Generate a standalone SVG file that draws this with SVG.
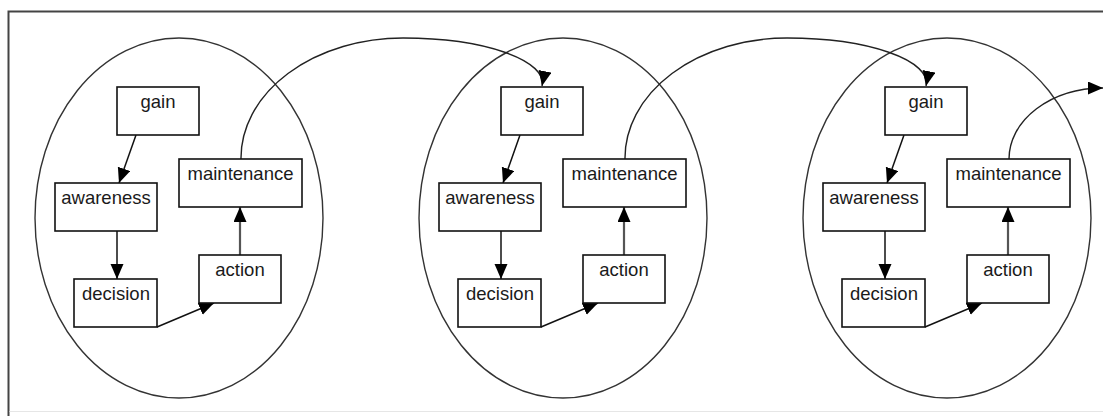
<svg xmlns="http://www.w3.org/2000/svg" width="1103" height="416" viewBox="0 0 1103 416">
<style>
.bg{fill:#ffffff}
.frame{stroke:#444;stroke-width:2;fill:none}
.frame2{stroke:#e6e6e6;stroke-width:1;fill:none}
.cluster{fill:none;stroke:#333;stroke-width:1.4}
.box{fill:#fff;stroke:#111;stroke-width:1.6}
.lbl{font-family:"Liberation Sans",Arial,sans-serif;font-size:18.5px;fill:#1a1a1a;text-anchor:middle}
.edge{fill:none;stroke:#111;stroke-width:1.5}
.edge2{fill:none;stroke:#555;stroke-width:2.2}
.curve{fill:none;stroke:#222;stroke-width:1.4}
</style>
<defs>
<marker id="ah" markerUnits="userSpaceOnUse" markerWidth="17" markerHeight="15" refX="15" refY="6.5" orient="auto">
<path d="M0,0 L15,6.5 L0,13 z" fill="#000"/>
</marker>
</defs>
<rect class="bg" x="0" y="0" width="1103" height="416"/>
<g id="frame">
<path class="frame" d="M8.5,416 V11.5 H1103"/>
<path class="frame2" d="M9.5,411.5 H1103"/>
</g>
<g id="clusters">
<ellipse id="cluster1" class="cluster" cx="179" cy="218" rx="144" ry="180"/>
<ellipse id="cluster2" class="cluster" cx="563" cy="218" rx="144" ry="180"/>
<ellipse id="cluster3" class="cluster" cx="947" cy="218" rx="144" ry="180"/>
</g>
<g id="connectors">
<path class="edge" d="M136,135 L119,183" marker-end="url(#ah)"/>
<path class="edge" d="M117,231 L117,279" marker-end="url(#ah)"/>
<path class="edge" d="M157,327 L214,303" marker-end="url(#ah)"/>
<path class="edge2" d="M240,255 L240,207" marker-end="url(#ah)"/>
<path class="curve" d="M241,159 A162,120 0 0 1 403,38 A139,45 0 0 1 542,86" marker-end="url(#ah)"/>

<path class="edge" d="M520,135 L503,183" marker-end="url(#ah)"/>
<path class="edge" d="M501,231 L501,279" marker-end="url(#ah)"/>
<path class="edge" d="M541,327 L598,303" marker-end="url(#ah)"/>
<path class="edge2" d="M624,255 L624,207" marker-end="url(#ah)"/>
<path class="curve" d="M625,159 A162,120 0 0 1 787,38 A139,45 0 0 1 926,86" marker-end="url(#ah)"/>

<path class="edge" d="M904,135 L887,183" marker-end="url(#ah)"/>
<path class="edge" d="M885,231 L885,279" marker-end="url(#ah)"/>
<path class="edge" d="M925,327 L982,303" marker-end="url(#ah)"/>
<path class="edge2" d="M1008,255 L1008,207" marker-end="url(#ah)"/>
<path class="curve" d="M1009,159 A94,71 0 0 1 1103,88" marker-end="url(#ah)"/>
</g>
<g id="gain1"><rect class="box" x="117" y="87" width="82" height="48"/><text class="lbl" x="158" y="108">gain</text></g>
<g id="awareness1"><rect class="box" x="55" y="183" width="102" height="48"/><text class="lbl" x="106" y="204">awareness</text></g>
<g id="decision1"><rect class="box" x="74" y="279" width="83" height="48"/><text class="lbl" x="116" y="300">decision</text></g>
<g id="action1"><rect class="box" x="199" y="255" width="82" height="48"/><text class="lbl" x="240" y="276">action</text></g>
<g id="maintenance1"><rect class="box" x="179" y="159" width="123" height="48"/><text class="lbl" x="240.5" y="180">maintenance</text></g>

<g id="gain2"><rect class="box" x="501" y="87" width="82" height="48"/><text class="lbl" x="542" y="108">gain</text></g>
<g id="awareness2"><rect class="box" x="439" y="183" width="102" height="48"/><text class="lbl" x="490" y="204">awareness</text></g>
<g id="decision2"><rect class="box" x="458" y="279" width="83" height="48"/><text class="lbl" x="500" y="300">decision</text></g>
<g id="action2"><rect class="box" x="583" y="255" width="82" height="48"/><text class="lbl" x="624" y="276">action</text></g>
<g id="maintenance2"><rect class="box" x="563" y="159" width="123" height="48"/><text class="lbl" x="624.5" y="180">maintenance</text></g>

<g id="gain3"><rect class="box" x="885" y="87" width="82" height="48"/><text class="lbl" x="926" y="108">gain</text></g>
<g id="awareness3"><rect class="box" x="823" y="183" width="102" height="48"/><text class="lbl" x="874" y="204">awareness</text></g>
<g id="decision3"><rect class="box" x="842" y="279" width="83" height="48"/><text class="lbl" x="884" y="300">decision</text></g>
<g id="action3"><rect class="box" x="967" y="255" width="82" height="48"/><text class="lbl" x="1008" y="276">action</text></g>
<g id="maintenance3"><rect class="box" x="947" y="159" width="123" height="48"/><text class="lbl" x="1008.5" y="180">maintenance</text></g>
</svg>
